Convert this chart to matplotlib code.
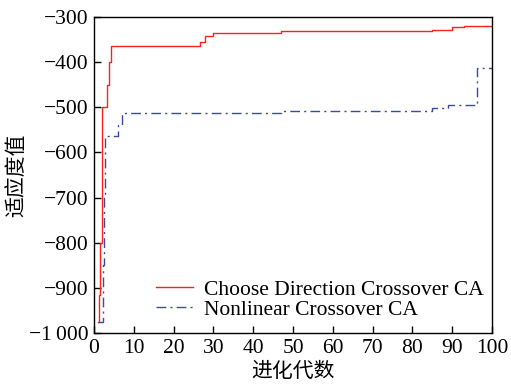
import matplotlib.pyplot as plt
from matplotlib.ticker import FuncFormatter

plt.rcParams['font.family'] = ['Liberation Serif', 'Noto Sans CJK SC']
plt.rcParams['axes.unicode_minus'] = True

# breakpoints of the best-fitness curves (step plots)
red_gen = [1.0, 1.3, 1.6, 1.9, 3.3, 3.85, 4.2, 26.5, 28.0, 30.0, 47.0, 85.0, 90.0, 93.0, 100.0]
red_val = [-975, -915, -800, -500, -450, -400, -365, -355, -342, -336, -332, -330, -322, -319, -319]

blue_gen = [1.0, 2.2, 2.5, 2.8, 6.0, 7.0, 47.0, 85.0, 89.0, 96.3, 100.0]
blue_val = [-975, -850, -700, -563, -540, -513, -508, -502, -496, -414, -414]

labels = ['Choose Direction Crossover CA', 'Nonlinear Crossover CA']

fig = plt.figure(figsize=(5.11, 3.85), dpi=100)
ax = fig.add_axes([0.184, 0.135, 0.779, 0.821])

ax.step(red_gen, red_val, where='post', color='#ff2020', lw=1.0, label=labels[0])
ax.step(blue_gen, blue_val, where='post', color='#3c4aa0', lw=1.0,
        linestyle=(0, (7, 3, 1.5, 3)), label=labels[1])

ax.set_xlim(0, 100)
ax.set_ylim(-1000, -300)
ax.set_xticks(range(0, 101, 10))
ax.set_yticks(range(-1000, -299, 100))


def yfmt(v, pos):
    v = int(round(v))
    s = f'{abs(v):,}'.replace(',', '\u2009')
    return ('\u2212' if v < 0 else '') + s


ax.yaxis.set_major_formatter(FuncFormatter(yfmt))
ax.tick_params(direction='in', length=5, width=1, labelsize=15.5, pad=4,
               top=False, right=False)
for sp in ax.spines.values():
    sp.set_linewidth(1.0)

ax.set_xlabel('进化代数', fontsize=15, labelpad=4)
ax.set_ylabel('适应度值', fontsize=15, labelpad=1)

ax.legend(loc='lower right', bbox_to_anchor=(1.0, 0.015), frameon=False,
          fontsize=15.5, handlelength=1.7, handletextpad=0.5,
          labelspacing=0.0, borderaxespad=0.0)

fig.savefig('out.png', dpi=100)
